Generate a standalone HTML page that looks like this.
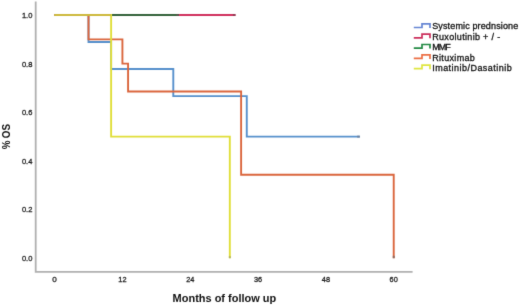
<!DOCTYPE html>
<html><head><meta charset="utf-8"><style>
html,body{margin:0;padding:0;background:#fff;}
body{width:520px;height:306px;overflow:hidden;}
svg{display:block;}
#w{width:520px;height:306px;will-change:transform;}
text{font-family:"Liberation Sans",sans-serif;}
</style></head><body>
<div id="w"><svg width="520" height="306" viewBox="0 0 520 306">
<defs><filter id="bl" x="0" y="0" width="520" height="306" filterUnits="userSpaceOnUse" color-interpolation-filters="sRGB"><feConvolveMatrix order="3" kernelMatrix="0.01 0.08 0.01 0.08 0.64 0.08 0.01 0.08 0.01" edgeMode="none"/></filter></defs>
<rect width="520" height="306" fill="#fff"/>
<g filter="url(#bl)">
<rect width="520" height="306" fill="#fff"/>
<g stroke="#b0b0b0" stroke-width="1.8" fill="none">
<path d="M35.7,1.6 L35.7,271.9 L412.6,271.9"/>
</g>
<g fill="none" stroke-width="1.9" stroke-linejoin="miter" stroke-linecap="butt">
<path d="M54.6,15.04 L88.51,15.04 L88.51,42.05 L111.12,42.05 L111.12,69.07 L173.29,69.07 L173.29,96.08 L246.77,96.08 L246.77,136.61 L359.81,136.61" stroke="#5690cc"/><path d="M54.6,15.04 L235.46,15.04" stroke="#d0305e"/><path d="M54.6,15.04 L178.94,15.04" stroke="#34623a"/><path d="M54.6,15.04 L88.51,15.04 L88.51,39.35 L122.42,39.35 L122.42,63.67 L128.08,63.67 L128.08,91.46 L241.12,91.46 L241.12,174.81 L393.72,174.81 L393.72,258.18" stroke="#da653c"/><path d="M54.6,15.04 L111.12,15.04 L111.12,136.61 L229.81,136.61 L229.81,258.18" stroke="#e0de38"/>
<path d="M357.21,136.61 L359.81,136.61" stroke="#6a7f9c"/><path d="M232.86,15.04 L235.46,15.04" stroke="#8e3a52"/><path d="M176.34,15.04 L178.94,15.04" stroke="#5a5048"/><path d="M393.72,255.78 L393.72,258.18" stroke="#8a6a60"/><path d="M229.81,256.18 L229.81,258.18" stroke="#b0b060"/>
</g>
<path d="M54.6,15.04 L111.12,15.04" stroke="#cdb93c" stroke-width="1.9" fill="none"/>
<g font-size="8.1" fill="#1c1c1c" stroke="#1c1c1c" stroke-width="0.3">
<text x="32.4" y="261" text-anchor="end" textLength="10.5" lengthAdjust="spacingAndGlyphs">0.0</text><text x="32.4" y="212" text-anchor="end" textLength="10.5" lengthAdjust="spacingAndGlyphs">0.2</text><text x="32.4" y="164" text-anchor="end" textLength="10.5" lengthAdjust="spacingAndGlyphs">0.4</text><text x="32.4" y="115" text-anchor="end" textLength="10.5" lengthAdjust="spacingAndGlyphs">0.6</text><text x="32.4" y="67" text-anchor="end" textLength="10.5" lengthAdjust="spacingAndGlyphs">0.8</text><text x="32.4" y="18" text-anchor="end" textLength="10.5" lengthAdjust="spacingAndGlyphs">1.0</text>
<text x="54.60" y="282" text-anchor="middle">0</text><text x="122.42" y="282" text-anchor="middle" textLength="8.2" lengthAdjust="spacingAndGlyphs">12</text><text x="190.25" y="282" text-anchor="middle" textLength="8.2" lengthAdjust="spacingAndGlyphs">24</text><text x="258.07" y="282" text-anchor="middle" textLength="8.2" lengthAdjust="spacingAndGlyphs">36</text><text x="325.90" y="282" text-anchor="middle" textLength="8.2" lengthAdjust="spacingAndGlyphs">48</text><text x="393.72" y="282" text-anchor="middle" textLength="8.2" lengthAdjust="spacingAndGlyphs">60</text>
</g>
<g font-size="9" fill="#111">
<path d="M413.8,27.50 H422 V23.90 H430 V28.00" stroke="#6686d4" stroke-width="1.7" fill="none"/><text x="432.2" y="29.00" textLength="86" lengthAdjust="spacing" stroke="#111" stroke-width="0.3">Systemic prednsione</text><path d="M413.8,37.80 H422 V34.20 H430 V38.30" stroke="#cc2f5c" stroke-width="1.7" fill="none"/><text x="432.2" y="40.00" textLength="68" lengthAdjust="spacing" stroke="#111" stroke-width="0.3">Ruxolutinib + / -</text><path d="M413.8,48.10 H422 V44.50 H430 V48.60" stroke="#238a44" stroke-width="1.7" fill="none"/><text x="432.2" y="50.00" textLength="18.6" lengthAdjust="spacing" stroke="#111" stroke-width="0.3">MMF</text><path d="M413.8,58.40 H422 V54.80 H430 V58.90" stroke="#ec6f45" stroke-width="1.7" fill="none"/><text x="432.2" y="61.00" textLength="42.6" lengthAdjust="spacing" stroke="#111" stroke-width="0.3">Rituximab</text><path d="M413.8,68.70 H422 V65.10 H430 V69.20" stroke="#dfe63f" stroke-width="1.7" fill="none"/><text x="432.2" y="71.00" textLength="79.5" lengthAdjust="spacing" stroke="#111" stroke-width="0.3">Imatinib/Dasatinib</text>
</g>
<text x="172.6" y="301.8" textLength="103.6" lengthAdjust="spacingAndGlyphs" font-size="10.6" font-weight="bold" fill="#111">Months of follow up</text>
<g transform="translate(10.25,0) rotate(-90) scale(0.9,1)" font-size="11" font-weight="bold" fill="#111" text-anchor="middle"><text x="-141.33">S</text><text x="-149.22">O</text><text x="-161.00">%</text></g>
</g>
</svg></div>
</body></html>
